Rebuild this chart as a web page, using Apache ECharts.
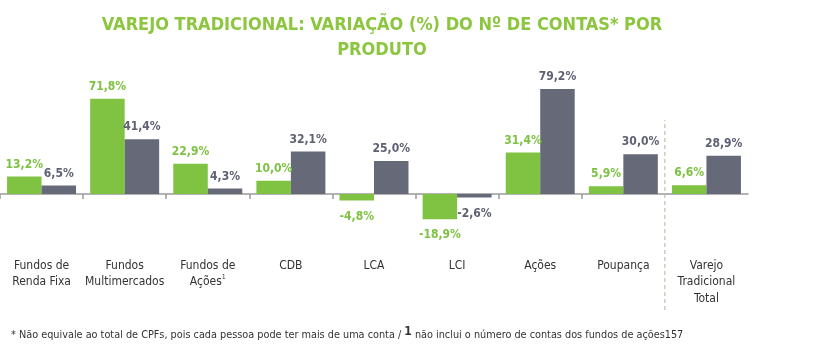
<!DOCTYPE html>
<html>
<head>
<meta charset="utf-8">
<script src="https://cdn.jsdelivr.net/npm/echarts@6/dist/echarts.min.js"></script>
<style>html,body{margin:0;padding:0;background:#fff}#c{width:820px;height:355px}</style>
</head>
<body>
<div id="c"></div>
<script>
const categories = ['Fundos de\nRenda Fixa', 'Fundos\nMultimercados', 'Fundos de\nAções{sup|1}', 'CDB', 'LCA', 'LCI', 'Ações', 'Poupança', 'Varejo\nTradicional\nTotal'];
const greenValues = [13.2, 71.8, 22.9, 10.0, -4.8, -18.9, 31.4, 5.9, 6.6];
const grayValues = [6.5, 41.4, 4.3, 32.1, 25.0, -2.6, 79.2, 30.0, 28.9];
const dividerIndex = 8;
const tickBoundaries = [0, 1, 2, 3, 4, 5, 6, 7];
const yMin = -20, yMax = 80;

const FONT = "'DejaVu Sans Condensed', sans-serif";
const GREEN = '#80c242', GRAY = '#666978';
const fmt = p => p.value.toFixed(1).replace('.', ',') + '%';
const mk = (vals) => vals.map(v => ({ value: v, label: { position: v < 0 ? 'bottom' : 'top', distance: v < 0 ? 10 : 6 } }));

const chart = echarts.init(document.getElementById('c'));
chart.setOption({
  animation: false,
  title: [{
    text: 'VAREJO TRADICIONAL: VARIAÇÃO (%) DO Nº DE CONTAS* POR\nPRODUTO',
    left: 377, top: 8, textAlign: 'center',
    textStyle: { fontFamily: FONT, fontSize: 18, fontWeight: 'bold', color: '#8cc63f', lineHeight: 25 }
  }, {
    text: '{a|* Não equivale ao total de CPFs, pois cada pessoa pode ter mais de uma conta / }{s|1}{a| não inclui o número de contas dos fundos de ações157}',
    left: 6, top: 321,
    textStyle: { rich: {
      a: { fontFamily: FONT, fontSize: 10.8, fontWeight: 'normal', color: '#333', verticalAlign: 'bottom' },
      s: { fontFamily: FONT, fontSize: 12, fontWeight: 'bold', color: '#333', verticalAlign: 'bottom', padding: [0, 0, 3, 0] }
    } }
  }],
  grid: [
    { left: 0, right: 72, top: 88, bottom: 134.4 },
    { left: 0, right: 72, top: 120, bottom: 45 }
  ],
  xAxis: [{
    type: 'category', data: categories, gridIndex: 0,
    axisLine: { onZero: true, lineStyle: { color: '#9a9a9a', width: 1.5 } },
    axisTick: { show: false },
    axisLabel: {
      interval: 0, margin: 37, color: '#333', fontFamily: FONT, fontSize: 12, lineHeight: 16.5,
      rich: { sup: { fontFamily: FONT, fontSize: 7, color: '#333', verticalAlign: 'top', lineHeight: 16.5 } }
    }
  }, {
    type: 'value', gridIndex: 1, min: 0, max: categories.length, show: false
  }, {
    type: 'value', gridIndex: 0, min: 0, max: categories.length, position: 'bottom',
    axisLine: { show: true, onZero: true, onZeroAxisIndex: 0, lineStyle: { color: 'rgba(0,0,0,0)' } },
    axisTick: { show: true, length: 5, customValues: tickBoundaries, lineStyle: { color: '#9a9a9a', width: 1.5 } },
    axisLabel: { show: false }, splitLine: { show: false }
  }],
  yAxis: [{
    type: 'value', min: yMin, max: yMax, show: false, splitLine: { show: false }
  }, {
    type: 'value', gridIndex: 1, min: 0, max: 1, show: false
  }],
  series: [{
    type: 'bar', data: mk(greenValues), barCategoryGap: '17%', barGap: '0%',
    itemStyle: { color: GREEN },
    label: { show: true, formatter: fmt, color: '#7dc242', fontFamily: FONT, fontSize: 12, fontWeight: 'bold' }
  }, {
    type: 'bar', data: mk(grayValues),
    itemStyle: { color: GRAY },
    label: { show: true, formatter: fmt, color: '#5e6172', fontFamily: FONT, fontSize: 12, fontWeight: 'bold' }
  }, {
    type: 'line', xAxisIndex: 1, yAxisIndex: 1, silent: true, symbol: 'none',
    data: [[dividerIndex, 0], [dividerIndex, 1]],
    lineStyle: { color: '#b5b89a', width: 1, type: [4, 3] }
  }]
});
</script>
</body>
</html>
